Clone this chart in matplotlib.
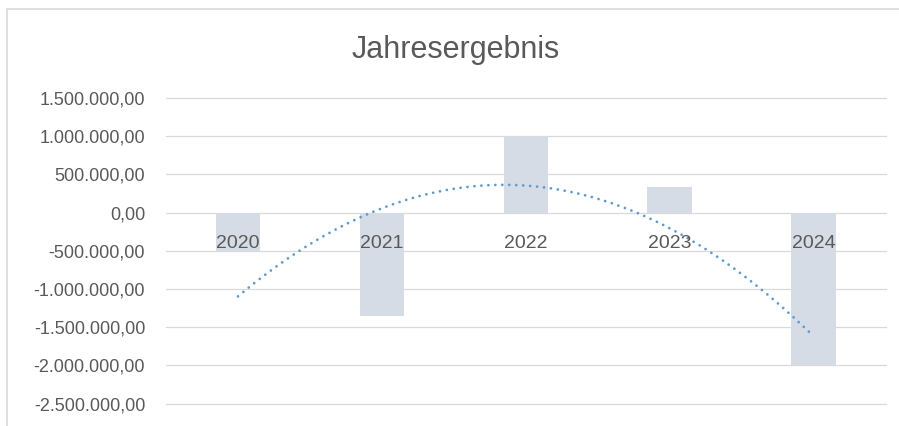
import numpy as np
import matplotlib
matplotlib.use("Agg")
import matplotlib.pyplot as plt
from matplotlib.patches import Rectangle
from matplotlib.ticker import FuncFormatter, MultipleLocator

# Jahresergebnis je Jahr (EUR)
jahre = ["2020", "2021", "2022", "2023", "2024"]
ergebnis = [-500000, -1350000, 1000000, 340000, -2000000]

plt.rcParams['font.family'] = ['Liberation Sans', 'DejaVu Sans']

TEXT = '#595959'
GRID = '#D9D9D9'
BAR = '#D6DCE5'
TREND = '#5B9BD5'

W, H = 899, 426
fig = plt.figure(figsize=(W / 100, H / 100), dpi=100)
fig.patch.set_facecolor('white')

# Rahmen des Diagrammbereichs (rechts/unten ausserhalb des Bildes)
fig.patches.append(Rectangle((7 / W, -0.1), 1.2, 1.1 - 9 / H, transform=fig.transFigure,
                             fill=False, edgecolor=GRID, linewidth=1.2))

ax = fig.add_axes([166 / W, 22.3 / H, (885.7 - 166) / W, (403.7 - 98) / H])
x = np.arange(len(jahre))
ax.bar(x, ergebnis, width=0.31, color=BAR, zorder=2)

# polynomische Trendlinie (Grad 2), wie in Excel
koeff = np.polyfit(x, ergebnis, 2)
xs = np.linspace(x[0], x[-1], 200)
ax.plot(xs, np.polyval(koeff, xs), color=TREND, linewidth=2.0,
        linestyle=(0, (0.01, 2.5)), dash_capstyle='round', zorder=3)

ax.set_xlim(-0.5, len(jahre) - 0.5)
ax.set_ylim(-2500000, 1500000)
ax.yaxis.set_major_locator(MultipleLocator(500000))
ax.yaxis.set_major_formatter(FuncFormatter(
    lambda v, p: f"{v:,.2f}".replace(',', 'X').replace('.', ',').replace('X', '.')))
for t in ax.get_yticks():
    if -2500000 <= t <= 1500000:
        ax.axhline(t, color=GRID, linewidth=0.9, zorder=0, clip_on=False)
for s in ax.spines.values():
    s.set_visible(False)
ax.set_xticks([])
ax.tick_params(axis='y', length=0, pad=15, labelsize=13, labelcolor=TEXT)

for i, j in enumerate(jahre):
    ax.annotate(j, (x[i], 0), xytext=(0, -25.4), textcoords='offset points',
                ha='center', va='baseline', fontsize=14, color=TEXT, zorder=4)

fig.text(456 / W, 1 - 58.3 / H, "Jahresergebnis", ha='center', va='baseline',
         fontsize=22, color=TEXT)

fig.savefig('out.png', dpi=100, facecolor='white')
